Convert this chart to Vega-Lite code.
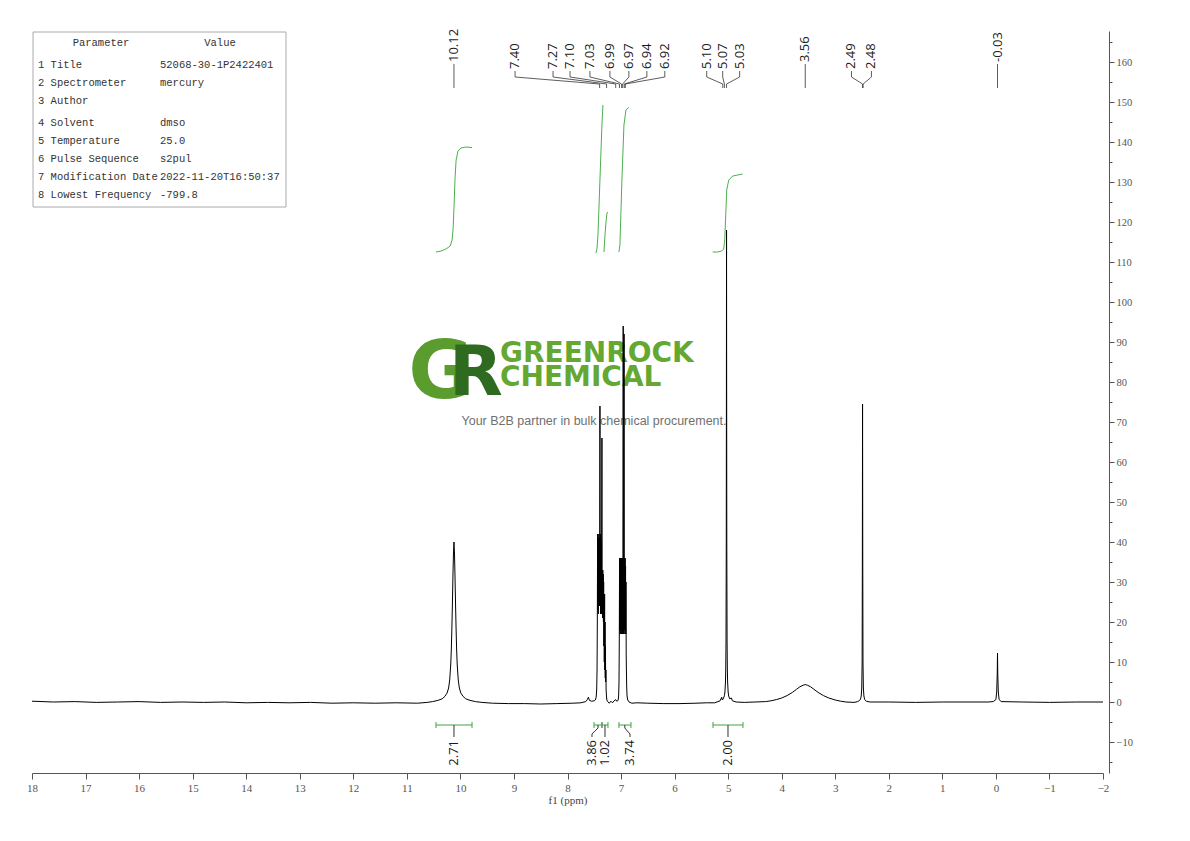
{
"$schema": "https://vega.github.io/schema/vega-lite/v6.json",
"width": 1071, "height": 742, "autosize": "none",
"padding": {"left": 32, "top": 31, "right": 87, "bottom": 68},
"background": "#ffffff",
"config": {"view": {"stroke": null}},
"resolve": {"axis": {"y": "independent"}},
"datasets": {
"spec": [
{"s":18.0,"v":0.2},{"s":17.6,"v":0.0},{"s":17.2,"v":0.1},{"s":16.8,"v":-0.1},{"s":16.4,"v":0.0},{"s":16.0,"v":0.1},{"s":15.6,"v":-0.1},{"s":15.2,"v":0.0},{"s":14.8,"v":-0.1},{"s":14.4,"v":0.0},{"s":14.0,"v":-0.2},{"s":13.6,"v":-0.1},{"s":13.2,"v":-0.2},{"s":12.8,"v":-0.1},{"s":12.4,"v":-0.3},{"s":12.0,"v":-0.2},{"s":11.6,"v":-0.3},{"s":11.2,"v":-0.2},{"s":10.8,"v":-0.3},{"s":10.62,"v":-0.1},
{"s":10.52,"v":0.1},{"s":10.42,"v":0.4},{"s":10.34,"v":0.8},{"s":10.29,"v":1.4},{"s":10.25,"v":2.2},{"s":10.22,"v":3.5},{"s":10.2,"v":5.5},{"s":10.18,"v":9.5},{"s":10.17,"v":13},{"s":10.16,"v":18},{"s":10.15,"v":24},{"s":10.14,"v":31},{"s":10.13,"v":37},{"s":10.12,"v":40},{"s":10.11,"v":37},{"s":10.1,"v":31},{"s":10.09,"v":24},{"s":10.08,"v":18},{"s":10.07,"v":13},{"s":10.06,"v":9.5},{"s":10.04,"v":5.5},{"s":10.02,"v":3.5},{"s":9.99,"v":2.2},{"s":9.95,"v":1.4},{"s":9.9,"v":0.8},{"s":9.82,"v":0.4},{"s":9.72,"v":0.1},
{"s":9.6,"v":-0.1},{"s":9.4,"v":-0.3},{"s":9.1,"v":-0.4},{"s":8.8,"v":-0.4},{"s":8.5,"v":-0.5},{"s":8.2,"v":-0.4},{"s":7.9,"v":-0.3},{"s":7.75,"v":-0.2},{"s":7.66,"v":0.1},{"s":7.63,"v":0.6},{"s":7.61,"v":1.2},{"s":7.59,"v":0.4},{"s":7.55,"v":0.2},{"s":7.5,"v":0.3},
{"s":7.48,"v":0.5},{"s":7.465,"v":1.2},{"s":7.455,"v":3},{"s":7.448,"v":8},{"s":7.443,"v":20},{"s":7.438,"v":42},{"s":7.434,"v":23},{"s":7.43,"v":40},{"s":7.426,"v":22},{"s":7.422,"v":41},{"s":7.418,"v":24},{"s":7.414,"v":42},{"s":7.41,"v":25},{"s":7.406,"v":41},{"s":7.402,"v":24},{"s":7.398,"v":42},{"s":7.394,"v":74},{"s":7.39,"v":30},{"s":7.386,"v":42},{"s":7.382,"v":22},{"s":7.378,"v":41},{"s":7.374,"v":23},{"s":7.37,"v":40},{"s":7.366,"v":22},{"s":7.362,"v":42},{"s":7.357,"v":66},{"s":7.353,"v":28},{"s":7.349,"v":33},{"s":7.345,"v":21},{"s":7.341,"v":33},{"s":7.337,"v":22},{"s":7.333,"v":32},{"s":7.329,"v":20},{"s":7.325,"v":30},{"s":7.321,"v":14},{"s":7.317,"v":26},{"s":7.313,"v":10},{"s":7.307,"v":27},{"s":7.303,"v":8},{"s":7.299,"v":20},{"s":7.295,"v":6},{"s":7.291,"v":14},{"s":7.287,"v":5},{"s":7.283,"v":8},{"s":7.279,"v":3},{"s":7.272,"v":1.5},{"s":7.265,"v":0.5},
{"s":7.25,"v":0.1},{"s":7.22,"v":-0.3},{"s":7.19,"v":0.2},{"s":7.16,"v":-0.2},{"s":7.13,"v":0.3},{"s":7.1,"v":0.6},{"s":7.08,"v":0.2},{"s":7.065,"v":0.3},
{"s":7.055,"v":0.4},{"s":7.045,"v":1.5},{"s":7.038,"v":5},{"s":7.033,"v":15},{"s":7.028,"v":36},{"s":7.024,"v":18},{"s":7.02,"v":36},{"s":7.016,"v":17},{"s":7.012,"v":36},{"s":7.008,"v":18},{"s":7.004,"v":36},{"s":7.0,"v":17},{"s":6.996,"v":36},{"s":6.992,"v":18},{"s":6.988,"v":36},{"s":6.984,"v":17},{"s":6.98,"v":36},{"s":6.976,"v":18},{"s":6.972,"v":36},{"s":6.968,"v":17},{"s":6.964,"v":36},{"s":6.96,"v":94},{"s":6.956,"v":30},{"s":6.952,"v":17},{"s":6.948,"v":36},{"s":6.944,"v":92},{"s":6.94,"v":30},{"s":6.936,"v":18},{"s":6.932,"v":36},{"s":6.928,"v":17},{"s":6.924,"v":36},{"s":6.92,"v":18},{"s":6.916,"v":34},{"s":6.912,"v":17},{"s":6.908,"v":30},{"s":6.904,"v":12},{"s":6.9,"v":8},{"s":6.895,"v":4},{"s":6.888,"v":1.5},{"s":6.875,"v":0.5},{"s":6.85,"v":0.0},{"s":6.8,"v":-0.3},
{"s":6.7,"v":-0.2},{"s":6.5,"v":-0.3},{"s":6.2,"v":-0.4},{"s":5.9,"v":-0.4},{"s":5.6,"v":-0.3},{"s":5.4,"v":-0.2},{"s":5.25,"v":-0.2},
{"s":5.15,"v":0.3},{"s":5.12,"v":1.2},{"s":5.11,"v":0.5},{"s":5.09,"v":0.8},{"s":5.07,"v":1.6},{"s":5.06,"v":2.5},{"s":5.05,"v":5},{"s":5.045,"v":8},{"s":5.04,"v":15},{"s":5.035,"v":40},{"s":5.032,"v":80},{"s":5.03,"v":118},{"s":5.028,"v":80},{"s":5.025,"v":40},{"s":5.02,"v":15},{"s":5.015,"v":8},{"s":5.01,"v":5},{"s":5.0,"v":2.5},{"s":4.99,"v":1.5},{"s":4.97,"v":0.8},{"s":4.94,"v":1.0},{"s":4.92,"v":0.3},{"s":4.85,"v":0.0},{"s":4.7,"v":-0.1},{"s":4.5,"v":0.0},
{"s":4.3,"v":0.1},{"s":4.2,"v":0.3},{"s":4.1,"v":0.6},{"s":4.0,"v":1.0},{"s":3.9,"v":1.6},{"s":3.8,"v":2.4},{"s":3.72,"v":3.2},{"s":3.66,"v":3.8},{"s":3.6,"v":4.2},{"s":3.56,"v":4.35},{"s":3.52,"v":4.2},{"s":3.46,"v":3.8},{"s":3.4,"v":3.2},{"s":3.32,"v":2.4},{"s":3.22,"v":1.6},{"s":3.12,"v":1.0},{"s":3.0,"v":0.5},{"s":2.9,"v":0.2},{"s":2.8,"v":0.0},{"s":2.65,"v":-0.1},{"s":2.58,"v":0.1},
{"s":2.53,"v":0.6},{"s":2.515,"v":1.5},{"s":2.505,"v":3.5},{"s":2.498,"v":10},{"s":2.494,"v":35},{"s":2.49,"v":74.5},{"s":2.486,"v":35},{"s":2.482,"v":10},{"s":2.475,"v":3.5},{"s":2.465,"v":1.5},{"s":2.45,"v":0.6},{"s":2.42,"v":0.2},{"s":2.35,"v":0.0},
{"s":2.0,"v":0.0},{"s":1.5,"v":-0.1},{"s":1.0,"v":0.0},{"s":0.5,"v":0.0},{"s":0.15,"v":0.0},
{"s":0.05,"v":0.1},{"s":0.0,"v":0.6},{"s":-0.015,"v":2.5},{"s":-0.025,"v":7},{"s":-0.03,"v":12.25},{"s":-0.035,"v":7},{"s":-0.045,"v":2.5},{"s":-0.06,"v":0.6},{"s":-0.1,"v":0.1},
{"s":-0.5,"v":0.0},{"s":-1.0,"v":-0.1},{"s":-1.5,"v":0.0},{"s":-2.0,"v":0.0}
],
"icurve": [
{"id":1,"o":1,"s":10.456,"v":112.5},{"id":1,"o":2,"s":10.36,"v":112.75},{"id":1,"o":3,"s":10.27,"v":113.25},{"id":1,"o":4,"s":10.19,"v":114},{"id":1,"o":5,"s":10.155,"v":115.5},{"id":1,"o":6,"s":10.135,"v":118.5},{"id":1,"o":7,"s":10.118,"v":124.25},{"id":1,"o":8,"s":10.1,"v":131},{"id":1,"o":9,"s":10.08,"v":135.5},{"id":1,"o":10,"s":10.045,"v":137.75},{"id":1,"o":11,"s":9.99,"v":138.5},{"id":1,"o":12,"s":9.895,"v":138.75},{"id":1,"o":13,"s":9.783,"v":138.6},
{"id":2,"o":1,"s":7.469,"v":112.25},{"id":2,"o":2,"s":7.45,"v":113.25},{"id":2,"o":3,"s":7.431,"v":116.75},{"id":2,"o":4,"s":7.394,"v":130.5},{"id":2,"o":5,"s":7.357,"v":144.25},{"id":2,"o":6,"s":7.338,"v":149.25},
{"id":3,"o":1,"s":7.319,"v":112.5},{"id":3,"o":2,"s":7.3,"v":116.75},{"id":3,"o":3,"s":7.281,"v":120},{"id":3,"o":4,"s":7.263,"v":122.25},{"id":3,"o":5,"s":7.244,"v":122.5},
{"id":4,"o":1,"s":7.04,"v":112.5},{"id":4,"o":2,"s":7.021,"v":114.25},{"id":4,"o":3,"s":6.984,"v":130.5},{"id":4,"o":4,"s":6.946,"v":144.25},{"id":4,"o":5,"s":6.909,"v":148},{"id":4,"o":6,"s":6.872,"v":148.5},{"id":4,"o":7,"s":6.854,"v":148.6},
{"id":5,"o":1,"s":5.288,"v":112.5},{"id":5,"o":2,"s":5.195,"v":112.5},{"id":5,"o":3,"s":5.12,"v":112.75},{"id":5,"o":4,"s":5.083,"v":113.25},{"id":5,"o":5,"s":5.064,"v":115.5},{"id":5,"o":6,"s":5.045,"v":121.75},{"id":5,"o":7,"s":5.027,"v":128},{"id":5,"o":8,"s":4.989,"v":130.5},{"id":5,"o":9,"s":4.915,"v":131.5},{"id":5,"o":10,"s":4.821,"v":131.75},{"id":5,"o":11,"s":4.729,"v":132}
],
"peaks": [
{"lab":"10.12","lx":10.12,"px":10.12,"kind":"s"},
{"lab":"7.40","lx":8.979,"px":7.40,"kind":"m"},
{"lab":"7.27","lx":8.270,"px":7.27,"kind":"m"},
{"lab":"7.10","lx":7.953,"px":7.10,"kind":"m"},
{"lab":"7.03","lx":7.581,"px":7.03,"kind":"m"},
{"lab":"6.99","lx":7.208,"px":6.99,"kind":"m"},
{"lab":"6.97","lx":6.854,"px":6.97,"kind":"m"},
{"lab":"6.94","lx":6.518,"px":6.94,"kind":"m"},
{"lab":"6.92","lx":6.183,"px":6.92,"kind":"m"},
{"lab":"5.10","lx":5.400,"px":5.10,"kind":"m"},
{"lab":"5.07","lx":5.102,"px":5.07,"kind":"m"},
{"lab":"5.03","lx":4.785,"px":5.03,"kind":"m"},
{"lab":"3.56","lx":3.56,"px":3.56,"kind":"s"},
{"lab":"2.49","lx":2.697,"px":2.49,"kind":"m"},
{"lab":"2.48","lx":2.324,"px":2.48,"kind":"m"},
{"lab":"-0.03","lx":-0.03,"px":-0.03,"kind":"s"}
],
"ints": [
{"lab":"2.71","a":10.456,"b":9.783,"c":10.12,"lx":10.12},
{"lab":"3.86","a":7.505,"b":7.356,"c":7.43,"lx":7.543},
{"lab":"1.02","a":7.356,"b":7.244,"c":7.30,"lx":7.300},
{"lab":"3.74","a":7.039,"b":6.815,"c":6.93,"lx":6.833},
{"lab":"2.00","a":5.283,"b":4.723,"c":5.003,"lx":5.003}
],
"params": [
{"row":1,"k":"1 Title","v":"52068-30-1P2422401"},
{"row":2,"k":"2 Spectrometer","v":"mercury"},
{"row":3,"k":"3 Author","v":""},
{"row":4,"k":"4 Solvent","v":"dmso"},
{"row":5,"k":"5 Temperature","v":"25.0"},
{"row":6,"k":"6 Pulse Sequence","v":"s2pul"},
{"row":7,"k":"7 Modification Date","v":"2022-11-20T16:50:37"},
{"row":8,"k":"8 Lowest Frequency","v":"-799.8"}
]
},
"layer": [
{"data": {"values": [{}]}, "mark": {"type": "rect", "fill": "#ffffff", "stroke": "#aaaaaa", "strokeWidth": 1},
 "encoding": {"x": {"datum": 17.981}, "x2": {"datum": 13.257}, "y": {"datum": 167.5, "axis": null}, "y2": {"datum": 123.75}}},
{"data": {"values": [{}]}, "mark": {"type": "text", "text": "Parameter", "font": "Liberation Mono", "fontSize": 10.5, "color": "#333333", "align": "center", "baseline": "middle"},
 "encoding": {"x": {"datum": 16.711}, "y": {"datum": 164.75, "axis": null}}},
{"data": {"values": [{}]}, "mark": {"type": "text", "text": "Value", "font": "Liberation Mono", "fontSize": 10.5, "color": "#333333", "align": "center", "baseline": "middle"},
 "encoding": {"x": {"datum": 14.489}, "y": {"datum": 164.75, "axis": null}}},
{"data": {"name": "params"}, "transform": [{"filter": "datum.row === 1"}], "mark": {"type": "text", "font": "Liberation Mono", "fontSize": 10.5, "color": "#333333", "align": "left", "baseline": "middle"}, "encoding": {"x": {"datum": 17.888}, "y": {"datum": 159.25, "axis": null}, "text": {"field": "k"}}},
{"data": {"name": "params"}, "transform": [{"filter": "datum.row === 1"}], "mark": {"type": "text", "font": "Liberation Mono", "fontSize": 10.5, "color": "#333333", "align": "left", "baseline": "middle"}, "encoding": {"x": {"datum": 15.61}, "y": {"datum": 159.25, "axis": null}, "text": {"field": "v"}}},
{"data": {"name": "params"}, "transform": [{"filter": "datum.row === 2"}], "mark": {"type": "text", "font": "Liberation Mono", "fontSize": 10.5, "color": "#333333", "align": "left", "baseline": "middle"}, "encoding": {"x": {"datum": 17.888}, "y": {"datum": 154.75, "axis": null}, "text": {"field": "k"}}},
{"data": {"name": "params"}, "transform": [{"filter": "datum.row === 2"}], "mark": {"type": "text", "font": "Liberation Mono", "fontSize": 10.5, "color": "#333333", "align": "left", "baseline": "middle"}, "encoding": {"x": {"datum": 15.61}, "y": {"datum": 154.75, "axis": null}, "text": {"field": "v"}}},
{"data": {"name": "params"}, "transform": [{"filter": "datum.row === 3"}], "mark": {"type": "text", "font": "Liberation Mono", "fontSize": 10.5, "color": "#333333", "align": "left", "baseline": "middle"}, "encoding": {"x": {"datum": 17.888}, "y": {"datum": 150.25, "axis": null}, "text": {"field": "k"}}},
{"data": {"name": "params"}, "transform": [{"filter": "datum.row === 4"}], "mark": {"type": "text", "font": "Liberation Mono", "fontSize": 10.5, "color": "#333333", "align": "left", "baseline": "middle"}, "encoding": {"x": {"datum": 17.888}, "y": {"datum": 144.75, "axis": null}, "text": {"field": "k"}}},
{"data": {"name": "params"}, "transform": [{"filter": "datum.row === 4"}], "mark": {"type": "text", "font": "Liberation Mono", "fontSize": 10.5, "color": "#333333", "align": "left", "baseline": "middle"}, "encoding": {"x": {"datum": 15.61}, "y": {"datum": 144.75, "axis": null}, "text": {"field": "v"}}},
{"data": {"name": "params"}, "transform": [{"filter": "datum.row === 5"}], "mark": {"type": "text", "font": "Liberation Mono", "fontSize": 10.5, "color": "#333333", "align": "left", "baseline": "middle"}, "encoding": {"x": {"datum": 17.888}, "y": {"datum": 140.25, "axis": null}, "text": {"field": "k"}}},
{"data": {"name": "params"}, "transform": [{"filter": "datum.row === 5"}], "mark": {"type": "text", "font": "Liberation Mono", "fontSize": 10.5, "color": "#333333", "align": "left", "baseline": "middle"}, "encoding": {"x": {"datum": 15.61}, "y": {"datum": 140.25, "axis": null}, "text": {"field": "v"}}},
{"data": {"name": "params"}, "transform": [{"filter": "datum.row === 6"}], "mark": {"type": "text", "font": "Liberation Mono", "fontSize": 10.5, "color": "#333333", "align": "left", "baseline": "middle"}, "encoding": {"x": {"datum": 17.888}, "y": {"datum": 135.75, "axis": null}, "text": {"field": "k"}}},
{"data": {"name": "params"}, "transform": [{"filter": "datum.row === 6"}], "mark": {"type": "text", "font": "Liberation Mono", "fontSize": 10.5, "color": "#333333", "align": "left", "baseline": "middle"}, "encoding": {"x": {"datum": 15.61}, "y": {"datum": 135.75, "axis": null}, "text": {"field": "v"}}},
{"data": {"name": "params"}, "transform": [{"filter": "datum.row === 7"}], "mark": {"type": "text", "font": "Liberation Mono", "fontSize": 10.5, "color": "#333333", "align": "left", "baseline": "middle"}, "encoding": {"x": {"datum": 17.888}, "y": {"datum": 131.25, "axis": null}, "text": {"field": "k"}}},
{"data": {"name": "params"}, "transform": [{"filter": "datum.row === 7"}], "mark": {"type": "text", "font": "Liberation Mono", "fontSize": 10.5, "color": "#333333", "align": "left", "baseline": "middle"}, "encoding": {"x": {"datum": 15.61}, "y": {"datum": 131.25, "axis": null}, "text": {"field": "v"}}},
{"data": {"name": "params"}, "transform": [{"filter": "datum.row === 8"}], "mark": {"type": "text", "font": "Liberation Mono", "fontSize": 10.5, "color": "#333333", "align": "left", "baseline": "middle"}, "encoding": {"x": {"datum": 17.888}, "y": {"datum": 126.75, "axis": null}, "text": {"field": "k"}}},
{"data": {"name": "params"}, "transform": [{"filter": "datum.row === 8"}], "mark": {"type": "text", "font": "Liberation Mono", "fontSize": 10.5, "color": "#333333", "align": "left", "baseline": "middle"}, "encoding": {"x": {"datum": 15.61}, "y": {"datum": 126.75, "axis": null}, "text": {"field": "v"}}},
{"data": {"values": [{}]}, "mark": {"type": "text", "text": "G", "font": "DejaVu Sans", "fontWeight": "bold", "fontSize": 80, "color": "#5b9c2e", "align": "center", "baseline": "alphabetic"},
 "encoding": {"x": {"datum": 10.362}, "y": {"datum": 76, "axis": null}}},
{"data": {"values": [{}]}, "mark": {"type": "text", "text": "R", "font": "DejaVu Sans", "fontWeight": "bold", "fontSize": 70, "color": "#2e6a1f", "align": "center", "baseline": "alphabetic"},
 "encoding": {"x": {"datum": 9.709}, "y": {"datum": 76.75, "axis": null}}},
{"data": {"values": [{}]}, "mark": {"type": "text", "text": "GREENROCK", "font": "DejaVu Sans", "fontWeight": "bold", "fontSize": 28, "color": "#64a832", "align": "left", "baseline": "alphabetic"},
 "encoding": {"x": {"datum": 9.261}, "y": {"datum": 85, "axis": null}}},
{"data": {"values": [{}]}, "mark": {"type": "text", "text": "CHEMICAL", "font": "DejaVu Sans", "fontWeight": "bold", "fontSize": 28, "color": "#64a832", "align": "left", "baseline": "alphabetic"},
 "encoding": {"x": {"datum": 9.261}, "y": {"datum": 79, "axis": null}}},
{"data": {"values": [{}]}, "mark": {"type": "text", "text": "Your B2B partner in bulk chemical procurement.", "font": "Liberation Sans", "fontSize": 12.5, "color": "#707070", "align": "center", "baseline": "middle"},
 "encoding": {"x": {"datum": 7.505}, "y": {"datum": 70.25, "axis": null}}},
{"data": {"name": "icurve"}, "mark": {"type": "line", "color": "#4caf50", "strokeWidth": 1},
 "encoding": {"x": {"field": "s", "type": "quantitative"}, "y": {"field": "v", "type": "quantitative", "axis": null}, "detail": {"field": "id"}, "order": {"field": "o", "type": "quantitative"}}},
{"data": {"name": "ints"}, "mark": {"type": "rule", "color": "#43a047", "strokeWidth": 1},
 "encoding": {"x": {"field": "a", "type": "quantitative"}, "x2": {"field": "b"}, "y": {"datum": -5.75, "axis": null}}},
{"data": {"name": "ints"}, "mark": {"type": "rule", "color": "#43a047", "strokeWidth": 1},
 "encoding": {"x": {"field": "a", "type": "quantitative"}, "y": {"datum": -5.0, "axis": null}, "y2": {"datum": -6.5}}},
{"data": {"name": "ints"}, "mark": {"type": "rule", "color": "#43a047", "strokeWidth": 1},
 "encoding": {"x": {"field": "b", "type": "quantitative"}, "y": {"datum": -5.0, "axis": null}, "y2": {"datum": -6.5}}},
{"data": {"name": "ints"}, "mark": {"type": "rule", "color": "#333333", "strokeWidth": 1},
 "encoding": {"x": {"field": "c", "type": "quantitative"}, "y": {"datum": -5.75, "axis": null}, "y2": {"datum": -6.5}}},
{"data": {"name": "ints"}, "mark": {"type": "rule", "color": "#333333", "strokeWidth": 1},
 "encoding": {"x": {"field": "c", "type": "quantitative"}, "x2": {"field": "lx"}, "y": {"datum": -6.5, "axis": null}, "y2": {"datum": -8.0}}},
{"data": {"name": "ints"}, "mark": {"type": "rule", "color": "#333333", "strokeWidth": 1},
 "encoding": {"x": {"field": "lx", "type": "quantitative"}, "y": {"datum": -8.0, "axis": null}, "y2": {"datum": -8.75}}},
{"data": {"name": "ints"}, "mark": {"type": "text", "angle": 270, "align": "right", "baseline": "middle", "font": "Open Sans", "fontSize": 13, "color": "#1a1a1a"},
 "encoding": {"x": {"field": "lx", "type": "quantitative"}, "y": {"datum": -9.5, "axis": null}, "text": {"field": "lab"}}},
{"data": {"values": [{}]}, "mark": {"type": "rule", "opacity": 0},
 "encoding": {"y": {"datum": 0, "axis": {"orient": "right", "offset": 6, "title": null,
    "values": [-15,-5,5,15,25,35,45,55,65,75,85,95,105,115,125,135,145,155,165],
    "labels": false, "domain": false, "grid": false, "tickColor": "#555555", "tickWidth": 1, "tickSize": 3}}}},
{"data": {"name": "spec"}, "mark": {"type": "line", "color": "#000000", "strokeWidth": 1, "interpolate": "linear"},
 "encoding": {
  "x": {"field": "s", "type": "quantitative",
   "scale": {"domain": [-2, 18], "reverse": true, "nice": false, "zero": false},
   "axis": {"title": "f1 (ppm)",
    "values": [18,17.5,17,16.5,16,15.5,15,14.5,14,13.5,13,12.5,12,11.5,11,10.5,10,9.5,9,8.5,8,7.5,7,6.5,6,5.5,5,4.5,4,3.5,3,2.5,2,1.5,1,0.5,0,-0.5,-1,-1.5,-2],
    "labelExpr": "datum.value % 1 === 0 ? format(datum.value, 'd') : ''",
    "grid": false, "domainColor": "#555555", "domainWidth": 1, "tickColor": "#555555", "tickWidth": 1,
    "tickSize": 6,
    "tickDash": {"condition": {"test": "datum.value % 1 === 0", "value": [6, 0]}, "value": [3, 20]},
    "labelFont": "Liberation Serif", "labelFontSize": 11, "labelColor": "#555555", "labelPadding": 3,
    "labelOverlap": false, "labelFlush": false,
    "titleFont": "Liberation Serif", "titleFontSize": 11, "titleFontWeight": "normal", "titleColor": "#444444", "titlePadding": 1}},
  "y": {"field": "v", "type": "quantitative",
   "scale": {"domain": [-17.75, 167.75], "nice": false, "zero": false},
   "axis": {"orient": "right", "offset": 6, "title": null,
    "values": [-10,0,10,20,30,40,50,60,70,80,90,100,110,120,130,140,150,160],
    "grid": false, "domainColor": "#555555", "domainWidth": 1, "tickColor": "#555555", "tickWidth": 1,
    "tickSize": 5,
    "labelFont": "Liberation Serif", "labelFontSize": 10.5, "labelColor": "#555555", "labelPadding": 2,
    "labelOverlap": false, "labelFlush": false}}
 }},
{"data": {"name": "peaks"}, "transform": [{"filter": "datum.kind === 'm'"}], "mark": {"type": "rule", "color": "#333333", "strokeWidth": 0.8},
 "encoding": {"x": {"field": "lx", "type": "quantitative"}, "y": {"datum": 157.75, "axis": null}, "y2": {"datum": 156.25}}},
{"data": {"name": "peaks"}, "transform": [{"filter": "datum.kind === 'm'"}], "mark": {"type": "rule", "color": "#333333", "strokeWidth": 0.8},
 "encoding": {"x": {"field": "lx", "type": "quantitative"}, "x2": {"field": "px"}, "y": {"datum": 156.25, "axis": null}, "y2": {"datum": 154.5}}},
{"data": {"name": "peaks"}, "transform": [{"filter": "datum.kind === 'm'"}], "mark": {"type": "rule", "color": "#333333", "strokeWidth": 0.8},
 "encoding": {"x": {"field": "px", "type": "quantitative"}, "y": {"datum": 154.5, "axis": null}, "y2": {"datum": 153.5}}},
{"data": {"name": "peaks"}, "transform": [{"filter": "datum.kind === 's'"}], "mark": {"type": "rule", "color": "#333333", "strokeWidth": 0.8},
 "encoding": {"x": {"field": "px", "type": "quantitative"}, "y": {"datum": 159.5, "axis": null}, "y2": {"datum": 153.5}}},
{"data": {"name": "peaks"}, "transform": [{"filter": "datum.kind === 'm'"}], "mark": {"type": "text", "angle": 270, "align": "left", "baseline": "middle", "font": "Open Sans", "fontSize": 13, "color": "#1a1a1a"},
 "encoding": {"x": {"field": "lx", "type": "quantitative"}, "y": {"datum": 158.25, "axis": null}, "text": {"field": "lab"}}},
{"data": {"name": "peaks"}, "transform": [{"filter": "datum.kind === 's'"}], "mark": {"type": "text", "angle": 270, "align": "left", "baseline": "middle", "font": "Open Sans", "fontSize": 13, "color": "#1a1a1a"},
 "encoding": {"x": {"field": "lx", "type": "quantitative"}, "y": {"datum": 160, "axis": null}, "text": {"field": "lab"}}}
]
}
